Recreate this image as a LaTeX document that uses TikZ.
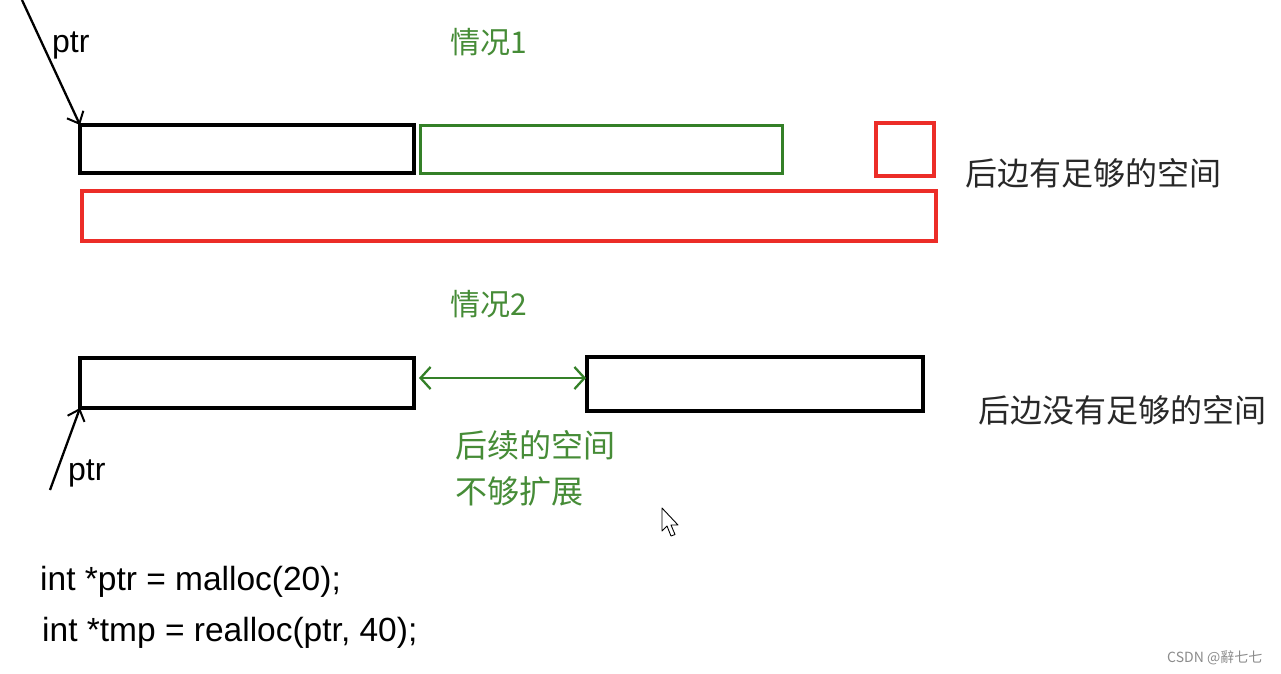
\documentclass[tikz,border=0pt]{standalone}
\usepackage{fontspec}
\setmainfont{Liberation Sans}
\newfontfamily\cjk{Noto Sans CJK SC}
\usetikzlibrary{arrows.meta}
\definecolor{gr}{RGB}{52,128,40}
\definecolor{grt}{RGB}{70,140,55}
\definecolor{rd}{RGB}{236,45,40}
\definecolor{tx}{RGB}{40,40,40}
\tikzset{
  blk/.style={draw=black, line width=3.4pt, inner sep=0, outer sep=0},
  grbox/.style={draw=gr, line width=3pt, inner sep=0, outer sep=0},
  rdbox/.style={draw=rd, line width=3.2pt, inner sep=0, outer sep=0},
  cn/.style={font=\cjk\fontsize{32}{36}\selectfont, text=tx, anchor=west, inner sep=0},
  cng/.style={cn, text=grt},
  code/.style={font=\fontsize{33.5}{38}\selectfont, text=black, anchor=base west, inner sep=0},
  lbl/.style={font=\fontsize{32}{36}\selectfont, text=black, anchor=base west, inner sep=0},
  ptrarrow/.style={line width=2.3pt, -{Straight Barb[length=10pt,width=18pt,line width=2pt]}},
  gap/.style={draw=gr, line width=2.6pt, {Straight Barb[length=10pt,width=22pt,line width=2.3pt]}-{Straight Barb[length=10pt,width=22pt,line width=2.3pt]}}
}
\begin{document}
\begin{tikzpicture}[x=1pt,y=-1pt]
\useasboundingbox[fill=white] (0,0) rectangle (1281,673);
% case 1
\node[cng, font=\cjk\fontsize{30}{34}\selectfont] (t1) at (450,42) {情况1};
\node[blk, minimum width=334pt, minimum height=48pt] (a1) at (247,149) {};
\node[grbox, minimum width=362pt, minimum height=48pt] (g1) at (601,149) {};
\node[rdbox, minimum width=58pt, minimum height=53pt] (r1) at (905,149.5) {};
\node[rdbox, minimum width=854pt, minimum height=50pt] (r2) at (509,216) {};
\node[cn] (s1) at (965,173) {后边有足够的空间};
\coordinate (p1start) at (22,0);
\node[lbl] (p1) at (52,52) {ptr};
\draw[ptrarrow] (p1start) -- (a1.north west);
% case 2
\node[cng, font=\cjk\fontsize{30}{34}\selectfont] (t2) at (450,304) {情况2};
\node[blk, minimum width=334pt, minimum height=50pt] (a2) at (247,383) {};
\node[blk, minimum width=336pt, minimum height=54pt] (b2) at (755,384) {};
\draw[gap] ([xshift=5pt,yshift=5pt]a2.east) -- ([xshift=-1pt,yshift=6pt]b2.west);
\node[cn] (s2) at (978,410) {后边没有足够的空间};
\node[cng] (n1) at (455,445) {后续的空间};
\node[cng] (n2) at (455,491) {不够扩展};
\coordinate (p2start) at (50,490);
\node[lbl] (p2) at (68,480) {ptr};
\draw[ptrarrow] (p2start) -- (a2.south west);
% code
\node[code] (c1) at (40,590) {int *ptr = malloc(20);};
\node[code] (c2) at (42,641) {int *tmp = realloc(ptr, 40);};
% mouse cursor
\draw[fill=white, line width=0.9pt, line join=round] (662,508) -- (662,531) -- (667,526) -- (671,536) -- (675,534.5) -- (671,525) -- (678,525) -- cycle;
% watermark
\node[font=\cjk\fontsize{14}{16}\selectfont, text=black!45, anchor=west, inner sep=0] (wm) at (1167,658) {CSDN @辭七七};
\end{tikzpicture}
\end{document}
